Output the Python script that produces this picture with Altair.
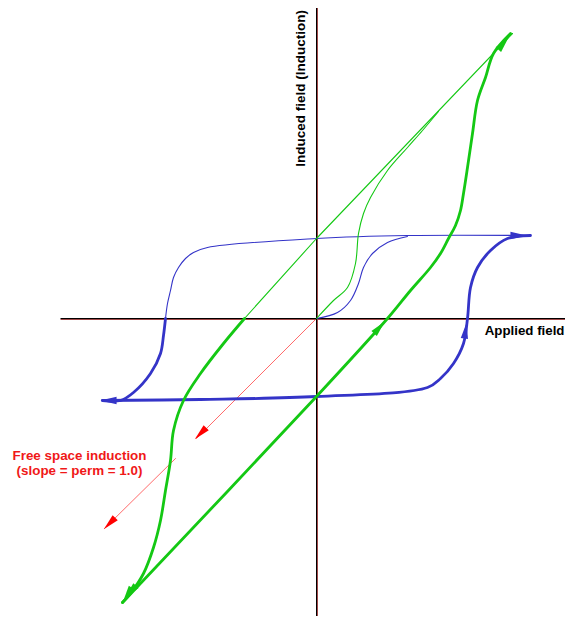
import altair as alt
import pandas as pd

# ---- data (H = applied field, B = induced field) ----
axis_h_span = [-2.56, 2.485]
axis_v_span = [-2.975, 3.13]

blue_initial_H = [0.0, 0.21, 0.34, 0.42, 0.47, 0.56, 0.71, 0.91]
blue_initial_B = [0.0, 0.06, 0.18, 0.35, 0.51, 0.65, 0.76, 0.82]

blue_top_H = [2.14, 0.91, 0.0, -1.09, -1.23, -1.31, -1.38, -1.43, -1.46, -1.49, -1.51]
blue_top_B = [0.83, 0.83, 0.80, 0.71, 0.66, 0.60, 0.51, 0.41, 0.28, 0.15, 0.0]

blue_down_H = [-1.51, -1.53, -1.56, -1.66, -1.83, -1.96, -2.14]
blue_down_B = [0.0, -0.17, -0.35, -0.55, -0.74, -0.82, -0.82]

blue_up_H = [-2.14, -1.16, 0.0, 1.11, 1.24, 1.37, 1.47, 1.51, 1.54, 1.61, 1.74, 1.91, 2.14]
blue_up_B = [-0.82, -0.81, -0.78, -0.69, -0.60, -0.45, -0.25, 0.0, 0.31, 0.51, 0.68, 0.80, 0.83]

green_line_H = [-0.72, 0.0, 1.96]
green_line_B = [0.0, 0.80, 2.85]

green_initial_H = [0.0, 0.17, 0.31, 0.39, 0.42, 0.47, 0.54, 0.71, 0.91, 1.06, 1.22]
green_initial_B = [0.0, 0.18, 0.31, 0.55, 0.85, 1.05, 1.21, 1.48, 1.71, 1.88, 2.07]

green_down_H = [-0.72, -0.93, -1.16, -1.33, -1.43, -1.46, -1.51, -1.56, -1.63, -1.73, -1.86, -1.94]
green_down_B = [0.0, -0.25, -0.55, -0.82, -1.12, -1.42, -1.72, -2.02, -2.29, -2.55, -2.75, -2.84]

green_up_H = [-1.94, 0.0, 0.71, 0.94, 1.14, 1.24, 1.32, 1.39, 1.44, 1.47, 1.51, 1.56, 1.61, 1.69, 1.77, 1.94]
green_up_B = [-2.84, -0.78, 0.0, 0.28, 0.51, 0.65, 0.80, 0.93, 1.08, 1.25, 1.51, 1.85, 2.18, 2.41, 2.65, 2.85]

free1_H = [0.0, -1.20]
free1_B = [0.0, -1.20]
free2_H = [-1.41, -2.12]
free2_B = [-1.40, -2.10]

arrow_H = [-2.08, 1.49, 2.02, 1.87, 0.63, -1.86, -1.89, -1.16, -2.07]
arrow_B = [-0.82, -0.12, 0.83, 2.75, -0.09, -2.73, -2.76, -1.15, -2.05]
arrow_ang = [270, 8, 90, 40, 42, 223, 213, 225, 225]
arrow_col = ["#3434c8", "#3434c8", "#3434c8", "#14c814", "#14c814", "#14c814", "#14c814",
             "#ff0000", "#ff0000"]

label_text = ["Applied field", "Induced field (Induction)"]
label_H = [2.48, -0.16]
label_B = [-0.12, 2.30]

red_text = ["Free space induction", "(slope = perm = 1.0)"]
red_H = [-2.37, -2.37]
red_B = [-1.37, -1.52]

BLUE = "#3434c8"
GREEN = "#14c814"
FONT = "Liberation Sans"


def curve(name, hs, bs):
    return pd.DataFrame({"curve": name, "H": hs, "B": bs, "i": list(range(len(hs)))})


xs = alt.Scale(domain=[-3.085, 2.485], nice=False, zero=False)
ys = alt.Scale(domain=[-2.975, 3.105], nice=False, zero=False)
X = alt.X("H:Q", scale=xs, axis=None)
Y = alt.Y("B:Q", scale=ys, axis=None)


def lines(df, color, width, interp="catmull-rom", opacity=1.0):
    return alt.Chart(df).mark_line(
        color=color, strokeWidth=width, interpolate=interp, opacity=opacity,
        strokeCap="round", strokeJoin="round"
    ).encode(x=X, y=Y, detail="curve:N", order="i:Q")


haxis = pd.DataFrame({"H": [axis_h_span[0]], "H2": [axis_h_span[1]], "B": [0.0]})
vaxis = pd.DataFrame({"H": [0.0], "B": [axis_v_span[0]], "B2": [axis_v_span[1]]})

h_brown = alt.Chart(haxis).mark_rule(color="#a04848", strokeWidth=1, yOffset=1).encode(x=X, x2="H2:Q", y=Y)
h_black = alt.Chart(haxis).mark_rule(color="#000000", strokeWidth=1).encode(x=X, x2="H2:Q", y=Y)
v_brown = alt.Chart(vaxis).mark_rule(color="#a04848", strokeWidth=1, xOffset=1).encode(x=X, y=Y, y2="B2:Q")
v_black = alt.Chart(vaxis).mark_rule(color="#000000", strokeWidth=1).encode(x=X, y=Y, y2="B2:Q")

red_thin = lines(pd.concat([curve("f1", free1_H, free1_B), curve("f2", free2_H, free2_B)]),
                 "#ff6a6a", 1, interp="linear")

blue_thin = lines(pd.concat([curve("bi", blue_initial_H, blue_initial_B),
                             curve("bt", blue_top_H, blue_top_B)]), BLUE, 1.1)
blue_thick = lines(pd.concat([curve("bd", blue_down_H, blue_down_B),
                              curve("bu", blue_up_H, blue_up_B)]), BLUE, 2.8)

green_straight = lines(curve("gl", green_line_H, green_line_B), GREEN, 1.1, interp="linear")
green_thin = lines(curve("gi", green_initial_H, green_initial_B), GREEN, 1.1)
green_thick = lines(pd.concat([curve("gd", green_down_H, green_down_B),
                               curve("gu", green_up_H, green_up_B)]), GREEN, 2.8)

arrows_df = pd.DataFrame({"H": arrow_H, "B": arrow_B, "ang": arrow_ang, "col": arrow_col})
arrows = alt.Chart(arrows_df).mark_point(
    shape="M0,-1L0.45,1L-0.45,1Z", filled=True, size=260, opacity=1, strokeWidth=0
).encode(
    x=X, y=Y,
    angle=alt.Angle("ang:Q", scale=None),
    color=alt.Color("col:N", scale=None),
)

labels_df = pd.DataFrame({"t": label_text, "H": label_H, "B": label_B})
lab1 = alt.Chart(labels_df.iloc[[0]]).mark_text(
    font=FONT, fontSize=13.3, fontWeight="bold", color="#000000",
    align="right", baseline="middle"
).encode(x=X, y=Y, text="t:N")
lab2 = alt.Chart(labels_df.iloc[[1]]).mark_text(
    font=FONT, fontSize=13.5, fontWeight="bold", color="#000000",
    align="center", baseline="middle", angle=270
).encode(x=X, y=Y, text="t:N")

red_df = pd.DataFrame({"t": red_text, "H": red_H, "B": red_B})
red_lab = alt.Chart(red_df).mark_text(
    font=FONT, fontSize=13.4, fontWeight="bold", color="#f01818",
    align="center", baseline="middle"
).encode(x=X, y=Y, text="t:N")

chart = alt.layer(
    red_thin, h_brown, v_brown, h_black, v_black,
    blue_thin, green_straight, green_thin, blue_thick, green_thick,
    arrows, lab1, lab2, red_lab
).properties(
    width=557, height=608,
    autosize=alt.AutoSizeParams(type="none"),
    padding=0,
).configure_view(stroke=None)

chart.save("out.html", embed_options={"renderer": "svg", "actions": False})
